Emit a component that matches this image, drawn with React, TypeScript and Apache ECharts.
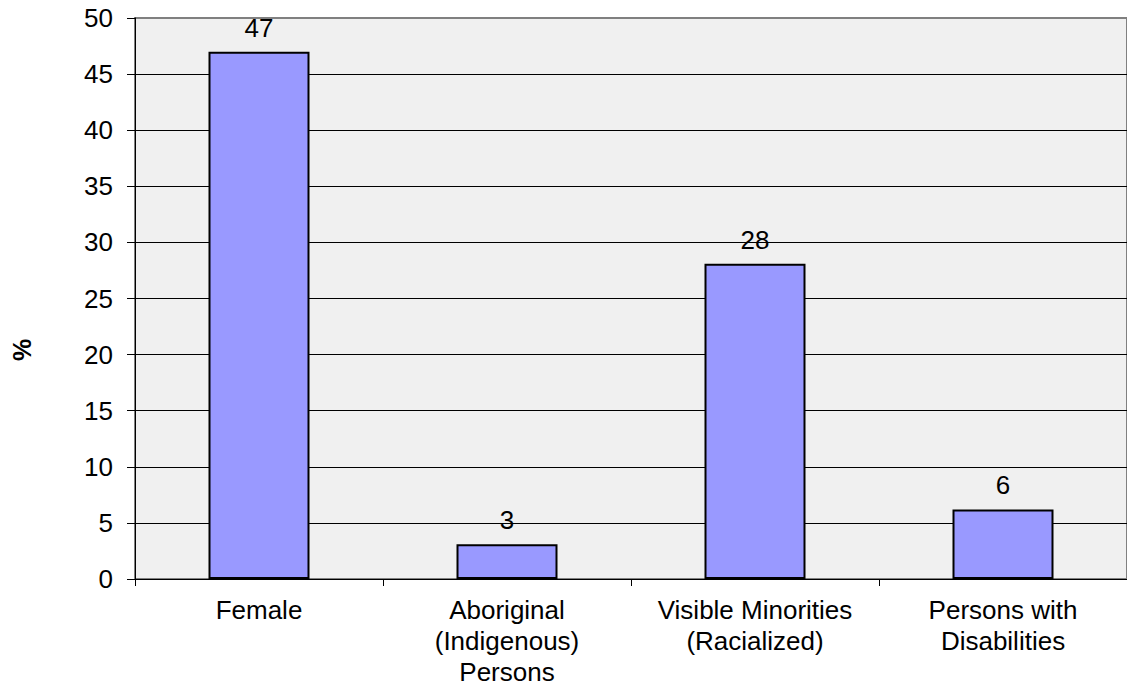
import React, { useEffect, useRef } from "react";
import * as echarts from "echarts";

const categories = [
  "Female",
  "Aboriginal\n(Indigenous)\nPersons",
  "Visible Minorities\n(Racialized)",
  "Persons with\nDisabilities",
];
const values = [47, 3.1, 28.1, 6.2];
const yTicks = { min: 0, max: 50, interval: 5 };
const yAxisTitle = "%";

export default function App() {
  const ref = useRef<HTMLDivElement>(null);
  useEffect(() => {
    const chart = echarts.init(ref.current!, undefined, { renderer: "svg" });
    const font = "Liberation Sans, Arial, sans-serif";
    const splitColors = Array.from({ length: 11 }, (_, i) => (i === 10 ? "#808080" : "#000000"));
    chart.setOption({
      animation: false,
      backgroundColor: "#ffffff",
      grid: {
        left: 135,
        top: 18,
        width: 1000,
        height: 563,
        show: true,
        backgroundColor: "#f0f0f0",
        borderColor: "#808080",
        borderWidth: 2,
      },
      graphic: [
        {
          type: "text",
          x: 22,
          y: 350,
          rotation: Math.PI / 2,
          style: {
            text: yAxisTitle,
            fill: "#000",
            font: "bold 25px Liberation Sans, Arial, sans-serif",
            align: "center",
            verticalAlign: "middle",
          },
        },
      ],
      xAxis: {
        type: "category",
        data: categories,
        axisLine: { show: true, lineStyle: { color: "#000", width: 1 } },
        axisTick: { show: true, length: 7, alignWithLabel: false, lineStyle: { color: "#000" } },
        axisLabel: {
          color: "#000",
          fontFamily: font,
          fontSize: 26,
          lineHeight: 31,
          margin: 15,
          interval: 0,
        },
      },
      yAxis: {
        type: "value",
        min: yTicks.min,
        max: yTicks.max,
        interval: yTicks.interval,
        axisLine: { show: true, lineStyle: { color: "#000", width: 1 } },
        axisTick: { show: true, length: 8, lineStyle: { color: "#000" } },
        axisLabel: { color: "#000", fontFamily: font, fontSize: 26, margin: 22 },
        splitLine: { show: true, lineStyle: { color: splitColors, width: 1 } },
      },
      series: [
        {
          type: "bar",
          data: values,
          barWidth: 101,
          itemStyle: { color: "#9999ff", borderColor: "#000", borderWidth: 2 },
          label: {
            show: true,
            position: "top",
            distance: 11,
            color: "#000",
            fontFamily: font,
            fontSize: 26,
            formatter: (p: any) => String(Math.round(p.value)),
          },
        },
      ],
    });
    return () => chart.dispose();
  }, []);
  return (
    <div
      ref={ref}
      style={{ position: "absolute", left: 0, top: 0, width: 1127, height: 687 }}
    />
  );
}
